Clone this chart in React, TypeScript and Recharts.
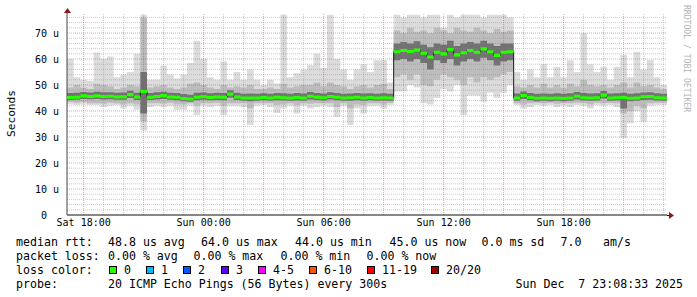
import React from 'react';
import { ComposedChart, Area, Line, XAxis, YAxis, ReferenceLine } from 'recharts';

// time axis: hours since Sat 00:00, one sample every 20 minutes
const START_HOUR = 17 + 10 / 60;
const STEP_HOURS = 1 / 3;

const xTicks = [18, 24, 30, 36, 42];
const xTickLabels = ['Sat 18:00', 'Sun 00:00', 'Sun 06:00', 'Sun 12:00', 'Sun 18:00'];
const yTicks = [0, 10, 20, 30, 40, 50, 60, 70];

// median rtt (us)
const median = [
  45.2, 45.3, 45.8, 45.6, 45.8, 45.6, 45.7, 45.4, 45.5, 46.3, 45.4, 47.5, 45.3, 45.6, 45.9, 45.4, 45.3, 44.8, 44.6, 45.3,
  45.5, 45.2, 45.4, 45.3, 46.5, 45.4, 45.0, 45.0, 45.0, 45.2, 45.0, 45.3, 45.1, 45.0, 45.2, 45.0, 45.7, 45.3, 45.1, 45.6,
  45.3, 45.0, 45.1, 45.3, 45.0, 45.2, 45.0, 45.1, 45.0,
  62.8, 63.3, 62.9, 63.4, 62.2, 60.8, 62.6, 62.0, 63.6, 61.6, 62.4, 63.3, 62.6, 63.9, 62.8, 61.4, 62.6, 62.8,
  45.0, 45.9, 45.2, 44.9, 45.0, 44.9, 45.0, 44.9, 45.0, 45.7, 45.1, 45.0, 45.1, 46.1, 45.0, 45.1, 45.2, 44.9, 45.0, 45.5,
  45.6, 45.1, 45.0, 45.0,
];

// outer smoke (min / max ping)
const smokeMax = [
  60, 53, 52, 51.5, 62.5, 60, 61, 53, 54, 55, 62, 77, 52, 52, 57.5, 54, 52.5, 54, 58.5, 67,
  60, 53, 52, 59, 52, 55, 52, 56, 52, 50, 52, 50.6, 77, 53, 54.5, 56, 57.7, 62, 56.5, 77,
  60, 56, 52, 56, 58, 55, 59.5, 59.6, 51,
  77, 76, 77, 77, 76, 77, 77, 72, 77, 76, 77, 77, 77, 76, 77, 77, 77, 76,
  55, 52, 56, 53, 58, 53, 57, 53, 59.5, 55, 70, 58, 55, 57, 52, 57, 61.5, 53, 62.8, 56,
  59.6, 53, 50, 50,
];
const smokeMin = [
  42.5, 42.3, 42.5, 42.3, 42.3, 41.5, 42, 42.3, 41, 42, 40.5, 32.5, 41.5, 42, 41.5, 42, 40.4, 40.5, 42, 38.5,
  42, 41.5, 42, 38.5, 42, 42, 41.5, 34.6, 42, 42.3, 41.5, 39.2, 41, 42, 39, 42, 41, 41.5, 42, 41.5,
  37.8, 42, 34.6, 41, 39, 42, 42, 41, 42.3,
  47.5, 47.5, 50, 49, 43, 42.5, 45, 48.5, 47.5, 50, 38.5, 46, 46, 43.6, 47, 45, 47, 50,
  42.3, 41, 41.5, 42.3, 42, 42.3, 41.5, 42, 41.5, 42.3, 42, 41, 42.3, 42, 42.3, 41.5, 29.6, 35.3, 40, 35.9,
  42, 42.3, 42.3, 42.3,
];

// middle smoke band
const midHi = [
  49, 50, 49, 48.5, 50.5, 50, 49.5, 48.5, 49, 50, 49.5, 76, 49, 49.5, 50, 49, 48.5, 49, 50.5, 51,
  50, 49, 48.5, 50, 49, 49.5, 49, 50, 48.5, 48.5, 49, 48.5, 50.5, 49, 49.5, 50, 50, 51, 49.5, 51,
  50, 49.5, 48.5, 49.5, 50, 49, 50, 50.5, 48.5,
  71, 70, 72, 70.5, 71, 70, 72, 71, 70, 72, 71, 70.5, 72, 71, 70, 71.5, 70.5, 71,
  49.5, 49, 50, 49, 50.5, 49, 50, 49, 50.5, 49.5, 52, 50, 49.5, 50, 49, 50, 51, 49, 51, 49.5,
  50, 49, 48.5, 48.5,
];
const midLo = [
  43.5, 43.2, 43.5, 43, 43, 42.8, 43.2, 43, 42.5, 43, 42.5, 36, 43, 43, 42.8, 43.2, 42.5, 42.5, 43, 42,
  43, 43, 43.2, 42, 43, 43, 43, 41, 43, 43, 43, 42.3, 42.5, 43, 42.2, 43, 42.8, 43, 43, 43,
  41.5, 43, 41, 42.5, 42.2, 43, 43, 42.5, 43.2,
  53, 54, 52, 54, 50, 49.5, 52, 54, 53, 52, 50, 53, 51, 53, 52, 53, 54, 55,
  43, 42.5, 43, 43.2, 43, 43.2, 42.8, 43, 43, 43.2, 43, 42.5, 43.2, 43, 43.2, 43, 39, 40, 42, 41,
  43, 43.2, 43.2, 43.2,
];

// dark core of the smoke
const coreHi = [
  46.9, 47.0, 47.3, 47.1, 47.4, 47.2, 47.2, 47.0, 47.1, 47.8, 47.0, 55, 46.9, 47.2, 47.4, 47.0, 46.9, 46.5, 46.3, 47.0,
  47.1, 46.8, 47.0, 46.9, 48.0, 47.0, 46.6, 46.7, 46.6, 46.8, 46.6, 46.9, 46.8, 46.6, 46.9, 46.7, 47.3, 46.9, 46.7, 47.2,
  46.9, 46.6, 46.7, 46.9, 46.7, 46.8, 46.6, 46.8, 46.6,
  66, 66.5, 66, 66.8, 65.5, 64.5, 66, 65.5, 67, 65, 66, 66.5, 66, 67, 66, 65, 66, 66,
  46.7, 47.5, 46.9, 46.6, 46.7, 46.6, 46.8, 46.6, 46.8, 47.3, 46.9, 46.7, 46.8, 47.7, 46.7, 46.8, 47.0, 46.6, 46.8, 47.1,
  47.2, 46.8, 46.6, 46.6,
];
const coreLo = [
  44.2, 44.3, 44.6, 44.5, 44.6, 44.4, 44.5, 44.3, 44.3, 45.0, 44.2, 39, 44.2, 44.4, 44.6, 44.3, 44.1, 43.8, 43.6, 44.1,
  44.3, 44.1, 44.2, 44.1, 45.1, 44.2, 43.9, 43.8, 43.9, 44.1, 43.9, 44.1, 44.0, 43.9, 44.0, 43.9, 44.4, 44.2, 44.0, 44.4,
  44.1, 43.9, 43.9, 44.1, 43.9, 44.1, 43.9, 44.0, 43.9,
  59.5, 60, 59, 60, 58.5, 56, 59.5, 58.5, 60, 57.5, 59, 60, 59, 60.5, 59.5, 57.5, 59, 59.5,
  43.9, 44.6, 44.1, 43.8, 43.9, 43.8, 43.9, 43.8, 43.9, 44.4, 44.0, 43.9, 44.0, 44.8, 43.9, 44.0, 41, 43.8, 43.9, 44.2,
  44.3, 44.0, 43.9, 43.9,
];

const lossLabels = ['0', '1', '2', '3', '4-5', '6-10', '11-19', '20/20'];
const lossColors = ['#26ff00', '#00b8ff', '#0059ff', '#5e00ff', '#ff00ff', '#ff5500', '#ff0000', '#a10000'];
const lossBoxX = [109, 146, 183, 221, 258, 309, 367, 431];

const rttLabel = 'median rtt:';
const rttItems = ['48.8 us avg', '64.0 us max', '44.0 us min', '45.0 us now', '0.0 ms sd', '7.0', 'am/s'];
const rttItemX = [108, 201, 295, 389.5, 481.5, 560.5, 603];
const lossLabel = 'packet loss:';
const lossItems = ['0.00 % avg', '0.00 % max', '0.00 % min', '0.00 % now'];
const lossItemX = [108, 193.5, 280.5, 366.5];
const probeLabel = 'probe:';
const probeText = '20 ICMP Echo Pings (56 Bytes) every 300s';
const dateText = 'Sun Dec  7 23:08:33 2025';

const rows = median.map((m, i) => ({
  t: START_HOUR + i * STEP_HOURS,
  med: m,
  min: smokeMin[i],
  max: smokeMax[i],
  lo: midLo[i],
  hi: midHi[i],
  cLo: coreLo[i],
  cHi: coreHi[i],
}));

const MONO = '"DejaVu Sans Mono", "Liberation Mono", monospace';
const minorY = Array.from({ length: 38 }, (_, k) => (k + 1) * 2).filter((v) => v % 10 !== 0);
const majorY = [10, 20, 30, 40, 50, 60, 70];
const hours = Array.from({ length: 30 }, (_, k) => 18 + k);
const minorX = hours.filter((h) => h % 3 !== 0);
const majorX = hours.filter((h) => h % 3 === 0);

const legendTop = (row: number) => 235 + row * 14;

const textStyle: React.CSSProperties = {
  position: 'absolute',
  fontFamily: MONO,
  fontSize: 11.6,
  lineHeight: '14px',
  whiteSpace: 'pre',
  color: '#000',
};

const gridProps = { strokeDasharray: '1 1', strokeOpacity: 0.45 } as const;

export default function App() {
  return (
    <div style={{ position: 'absolute', left: 0, top: 0, width: 697, height: 297, background: '#fff', overflow: 'hidden' }}>
      <ComposedChart
        width={697}
        height={297}
        data={rows}
        margin={{ top: 13, right: 30, bottom: 52, left: 10 }}
      >
        <XAxis
          type="number"
          dataKey="t"
          domain={[START_HOUR, START_HOUR + 30]}
          allowDataOverflow
          ticks={xTicks}
          tickFormatter={(v: number) => xTickLabels[xTicks.indexOf(v)] ?? ''}
          tickLine={false}
          tickSize={3}
          tickMargin={1}
          height={30}
          axisLine={{ stroke: '#111' }}
          tick={{ fontFamily: MONO, fontSize: 10, fill: '#000' }}
        />
        <YAxis
          type="number"
          domain={[0, 77.7]}
          allowDataOverflow
          ticks={yTicks}
          tickFormatter={(v: number) => (v === 0 ? '0\u00a0\u00a0' : `${v} u`)}
          tickLine={false}
          width={57}
          axisLine={{ stroke: '#444' }}
          tick={{ fontFamily: MONO, fontSize: 10, fill: '#000' }}
        />
        <Area
          type="stepAfter"
          dataKey={(d: any) => [d.min, d.max]}
          fill="#dcdcdc"
          fillOpacity={1}
          stroke="none"
          isAnimationActive={false}
          zIndex={100}
        />
        <Area
          type="stepAfter"
          dataKey={(d: any) => [d.lo, d.hi]}
          fill="#bdbdbd"
          fillOpacity={1}
          stroke="none"
          isAnimationActive={false}
          zIndex={101}
        />
        <Area
          type="stepAfter"
          dataKey={(d: any) => [d.cLo, d.cHi]}
          fill="#727272"
          fillOpacity={1}
          stroke="none"
          isAnimationActive={false}
          zIndex={102}
        />
        {minorY.map((v) => (
          <ReferenceLine key={`my${v}`} y={v} stroke="#8a8a8a" {...gridProps} zIndex={150} />
        ))}
        {minorX.map((v) => (
          <ReferenceLine key={`mx${v}`} x={v} stroke="#8a8a8a" {...gridProps} zIndex={150} />
        ))}
        {majorY.map((v) => (
          <ReferenceLine key={`My${v}`} y={v} stroke="#c03838" {...gridProps} zIndex={151} />
        ))}
        {majorX.map((v) => (
          <ReferenceLine key={`Mx${v}`} x={v} stroke="#c03838" {...gridProps} zIndex={151} />
        ))}
        <Line
          type="stepAfter"
          dataKey="med"
          stroke="#1a1a1a"
          strokeWidth={1}
          dot={false}
          isAnimationActive={false}
          zIndex={450}
        />
        <Area
          type="stepAfter"
          dataKey={(d: any) => [d.med - 0.6, d.med + 0.6]}
          fill="#26ff00"
          fillOpacity={1}
          stroke="none"
          isAnimationActive={false}
          zIndex={500}
        />
      </ComposedChart>

      <svg width={697} height={297} style={{ position: 'absolute', left: 0, top: 0, pointerEvents: 'none' }}>
        <line x1={67.5} y1={13} x2={67.5} y2={10} stroke="#444" />
        <polygon points="64,13 71,13 67.5,8" fill="#8b1a1a" />
        <line x1={667} y1={215.5} x2={670} y2={215.5} stroke="#111" />
        <polygon points="669,212 669,219 674,215.5" fill="#8b1a1a" />
        <text
          x={0}
          y={0}
          transform="translate(11,113.5) rotate(-90)"
          textAnchor="middle"
          dominantBaseline="central"
          fontFamily={MONO}
          fontSize={11.2}
          fill="#000"
        >
          Seconds
        </text>
        <text
          x={0}
          y={0}
          transform="translate(684,5) rotate(90)"
          fontFamily={MONO}
          fontSize={8.1}
          fill="#b4b4b4"
        >
          RRDTOOL / TOBI OETIKER
        </text>
      </svg>

      <div style={{ ...textStyle, left: 16, top: legendTop(0) }}>{rttLabel}</div>
      {rttItems.map((s, i) => (
        <div key={`r${i}`} style={{ ...textStyle, left: rttItemX[i], top: legendTop(0) }}>{s}</div>
      ))}
      <div style={{ ...textStyle, left: 16, top: legendTop(1) }}>{lossLabel}</div>
      {lossItems.map((s, i) => (
        <div key={`l${i}`} style={{ ...textStyle, left: lossItemX[i], top: legendTop(1) }}>{s}</div>
      ))}
      <div style={{ ...textStyle, left: 16, top: legendTop(2) }}>loss color:</div>
      {lossLabels.map((s, i) => (
        <React.Fragment key={`c${i}`}>
          <div
            style={{
              position: 'absolute',
              left: lossBoxX[i],
              top: legendTop(2) + 3,
              width: 6,
              height: 6,
              background: lossColors[i],
              border: '1px solid #000',
            }}
          />
          <div style={{ ...textStyle, left: lossBoxX[i] + 15, top: legendTop(2) }}>{s}</div>
        </React.Fragment>
      ))}
      <div style={{ ...textStyle, left: 16, top: legendTop(3) }}>{probeLabel}</div>
      <div style={{ ...textStyle, left: 108, top: legendTop(3) }}>{probeText}</div>
      <div style={{ ...textStyle, left: 515.5, top: legendTop(3) }}>{dateText}</div>
    </div>
  );
}
